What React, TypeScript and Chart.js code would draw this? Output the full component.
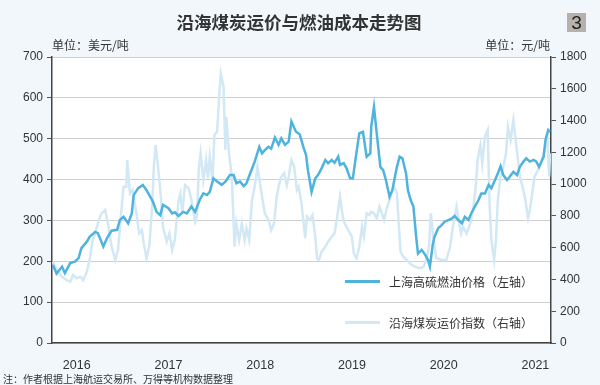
import React, { useEffect, useRef } from "react";
import { Chart, registerables } from "chart.js";

Chart.register(...registerables);

const title = "沿海煤炭运价与燃油成本走势图";
const leftUnit = "单位：美元/吨";
const rightUnit = "单位：元/吨";
const footnote = "注：作者根据上海航运交易所、万得等机构数据整理";
const fuelLabel = "上海高硫燃油价格（左轴）";
const coalLabel = "沿海煤炭运价指数（右轴）";
const yearTicks = [2016, 2017, 2018, 2019, 2020, 2021];

const fuelT = [
  2015.74, 2015.78, 2015.84, 2015.87, 2015.93, 2015.98, 2016.02, 2016.05, 2016.11, 2016.14,
  2016.2, 2016.23, 2016.29, 2016.33, 2016.38, 2016.44, 2016.47, 2016.51, 2016.56, 2016.6,
  2016.62, 2016.67, 2016.72, 2016.76, 2016.8, 2016.83, 2016.87, 2016.91, 2016.94, 2017.0,
  2017.04, 2017.07, 2017.11, 2017.16, 2017.2, 2017.25, 2017.29, 2017.34, 2017.38, 2017.42,
  2017.45, 2017.49, 2017.53, 2017.58, 2017.62, 2017.67, 2017.71, 2017.74, 2017.78, 2017.82,
  2017.85, 2017.89, 2017.94, 2017.99, 2018.02, 2018.05, 2018.09, 2018.12, 2018.16, 2018.2,
  2018.23, 2018.27, 2018.31, 2018.34, 2018.39, 2018.43, 2018.47, 2018.5, 2018.52, 2018.56,
  2018.6, 2018.63, 2018.67, 2018.71, 2018.74, 2018.78, 2018.81, 2018.85, 2018.87, 2018.91,
  2018.94, 2018.98, 2019.01, 2019.04, 2019.08, 2019.12, 2019.16, 2019.2, 2019.21, 2019.24,
  2019.27, 2019.31, 2019.34, 2019.37, 2019.41, 2019.44, 2019.49, 2019.52, 2019.55, 2019.59,
  2019.61, 2019.64, 2019.67, 2019.7, 2019.72, 2019.76, 2019.8, 2019.83, 2019.85, 2019.88,
  2019.9, 2019.94, 2019.98, 2020.01, 2020.05, 2020.09, 2020.12, 2020.16, 2020.2, 2020.23,
  2020.27, 2020.3, 2020.34, 2020.38, 2020.41, 2020.45, 2020.49, 2020.52, 2020.56, 2020.59,
  2020.62, 2020.65, 2020.69, 2020.72, 2020.76, 2020.8, 2020.83, 2020.87, 2020.9, 2020.94,
  2020.98, 2021.01, 2021.04, 2021.09, 2021.11, 2021.14, 2021.16,
];
const fuelV = [
  191, 170, 187, 171, 196, 199, 208, 232, 248, 260,
  272, 269, 236, 257, 275, 277, 301, 309, 293, 317,
  362, 379, 387, 374, 358, 346, 321, 313, 338, 330,
  317, 320, 311, 321, 317, 334, 321, 350, 366, 362,
  370, 403, 395, 387, 395, 411, 411, 391, 395, 384,
  391, 415, 444, 480, 464, 472, 480, 476, 503, 485,
  501, 485, 493, 542, 517, 511, 480, 460, 423, 370,
  403, 411, 428, 448, 440, 448, 441, 456, 436, 440,
  428, 403, 403, 452, 513, 517, 456, 464, 529, 578,
  513, 431, 423, 399, 358, 374, 431, 456, 452, 415,
  374, 350, 334, 260, 219, 228, 215, 203, 187, 240,
  260, 281, 289, 297, 301, 305, 311, 301, 293, 309,
  301, 317, 334, 350, 366, 366, 387, 379, 399, 415,
  433, 411, 399, 407, 419, 411, 431, 444, 452, 444,
  448, 444, 431, 456, 497, 521, 517,
];

const coalT = [
  2015.74, 2015.78, 2015.84, 2015.89, 2015.93, 2015.96, 2016.0, 2016.04, 2016.07, 2016.11,
  2016.14, 2016.17, 2016.2, 2016.23, 2016.27, 2016.31, 2016.34, 2016.38, 2016.42, 2016.45,
  2016.48, 2016.51, 2016.54, 2016.55, 2016.58, 2016.61, 2016.65, 2016.68, 2016.71, 2016.73,
  2016.76, 2016.79, 2016.82, 2016.84, 2016.86, 2016.89, 2016.92, 2016.94, 2016.98, 2017.01,
  2017.04, 2017.07, 2017.11, 2017.13, 2017.15, 2017.18, 2017.22, 2017.25, 2017.29, 2017.31,
  2017.33, 2017.35, 2017.38, 2017.41, 2017.43, 2017.45, 2017.48, 2017.5, 2017.53, 2017.55,
  2017.57, 2017.6, 2017.62, 2017.63, 2017.66, 2017.69, 2017.72, 2017.74, 2017.77, 2017.8,
  2017.83, 2017.85, 2017.88, 2017.91, 2017.94, 2017.97, 2018.0, 2018.02, 2018.05, 2018.09,
  2018.12, 2018.15, 2018.18, 2018.2, 2018.23, 2018.26, 2018.29, 2018.31, 2018.34, 2018.37,
  2018.4, 2018.42, 2018.45, 2018.49, 2018.51, 2018.54, 2018.57, 2018.6, 2018.62, 2018.64,
  2018.67, 2018.71, 2018.74, 2018.78, 2018.81, 2018.84, 2018.87, 2018.9, 2018.92, 2018.96,
  2019.0, 2019.02, 2019.05, 2019.08, 2019.11, 2019.13, 2019.16, 2019.19, 2019.21, 2019.24,
  2019.27, 2019.3, 2019.32, 2019.35, 2019.38, 2019.41, 2019.43, 2019.46, 2019.49, 2019.51,
  2019.53, 2019.56, 2019.6, 2019.63, 2019.67, 2019.71, 2019.74, 2019.78, 2019.81, 2019.84,
  2019.86, 2019.89, 2019.92, 2019.98, 2020.03, 2020.07, 2020.1, 2020.14, 2020.17, 2020.19,
  2020.21, 2020.25, 2020.29, 2020.32, 2020.35, 2020.37, 2020.4, 2020.42, 2020.45, 2020.48,
  2020.5, 2020.52, 2020.55, 2020.57, 2020.59, 2020.62, 2020.65, 2020.68, 2020.7, 2020.73,
  2020.76, 2020.78, 2020.81, 2020.83, 2020.86, 2020.89, 2020.92, 2020.94, 2020.97, 2020.99,
  2021.03, 2021.07, 2021.1, 2021.13, 2021.15, 2021.16,
];
const coalV = [
  512, 459, 417, 396, 386, 428, 407, 417, 396, 449,
  522, 638, 690, 753, 816, 837, 753, 606, 522, 585,
  795, 984, 984, 1152, 942, 963, 816, 690, 711, 627,
  533, 606, 837, 1110, 1246, 1089, 900, 732, 638, 690,
  585, 655, 900, 942, 816, 994, 973, 900, 763, 795,
  1089, 1194, 1026, 1152, 1036, 1173, 1026, 1309, 1330, 1529,
  1697, 1613, 1215, 1424, 1194, 1047, 606, 753, 648, 753,
  648, 722, 648, 900, 984, 1110, 994, 921, 816, 774,
  711, 753, 921, 984, 1047, 1068, 994, 1047, 1152, 1110,
  963, 984, 879, 660, 795, 774, 806, 669, 533, 522,
  575, 606, 638, 669, 690, 795, 921, 795, 753, 711,
  669, 564, 533, 606, 732, 669, 816, 806, 826, 816,
  785, 858, 826, 774, 848, 900, 942, 984, 942, 753,
  575, 543, 522, 501, 485, 476, 470, 480, 522, 606,
  816, 648, 533, 522, 522, 606, 732, 858, 753, 690,
  732, 690, 753, 837, 984, 1152, 1246, 1131, 1299, 1341,
  879, 648, 522, 648, 900, 1047, 1110, 1194, 1361, 1278,
  1403, 1299, 1152, 1047, 984, 900, 785, 837, 963, 1047,
  1089, 1152, 1215, 1299, 1047, 1194,
];

const DARK = "#4eb3dd";
const LIGHT = "#d2e8f5";
const TEXT = "#333333";
const BG = "#f1f7fb";
const SANS = "'Liberation Sans', Arial, sans-serif";
const CJK = "'Noto Sans CJK SC', sans-serif";

export default function App() {
  const ref = useRef<HTMLCanvasElement | null>(null);

  useEffect(() => {
    if (!ref.current) return;
    const plotBg = {
      id: "plotBg",
      beforeDraw(chart: any) {
        const { ctx, chartArea } = chart;
        ctx.save();
        ctx.fillStyle = "#ffffff";
        ctx.fillRect(chartArea.left, chartArea.top, chartArea.right - chartArea.left, chartArea.bottom - chartArea.top);
        ctx.restore();
      },
    };
    const chart = new Chart(ref.current, {
      type: "line",
      data: {
        datasets: [
          {
            label: fuelLabel,
            data: fuelT.map((t, i) => ({ x: t, y: fuelV[i] })),
            borderColor: DARK,
            borderWidth: 2.5,
            pointRadius: 0,
            tension: 0,
            yAxisID: "y",
          },
          {
            label: coalLabel,
            data: coalT.map((t, i) => ({ x: t, y: coalV[i] })),
            borderColor: LIGHT,
            borderWidth: 2.5,
            pointRadius: 0,
            tension: 0,
            yAxisID: "y1",
          },
        ],
      },
      options: {
        responsive: false,
        animation: false,
        devicePixelRatio: 1,
        layout: { padding: { top: 57, left: 0, right: 0, bottom: 0 } },
        plugins: { legend: { display: false }, tooltip: { enabled: false } },
        scales: {
          x: {
            type: "linear",
            min: 2015.73,
            max: 2021.17,
            afterBuildTicks: (axis: any) => {
              axis.ticks = yearTicks.map((v) => ({ value: v }));
            },
            afterFit: (s: any) => {
              s.height = 42;
            },
            ticks: {
              autoSkip: false,
              maxRotation: 0,
              padding: 7,
              color: TEXT,
              font: { family: SANS, size: 12.5 },
              callback: (v: any) => String(v),
            },
            grid: { display: false },
            border: { display: true, color: "#444444", width: 1.5 },
          },
          y: {
            position: "left",
            min: 0,
            max: 700,
            afterFit: (s: any) => {
              s.width = 52;
            },
            ticks: { stepSize: 100, padding: 4, color: TEXT, font: { family: SANS, size: 12 }, callback: (v: any) => String(v) },
            grid: { color: "#cfcfcf", lineWidth: 1, tickLength: 5, tickColor: "#555555" },
            border: { display: true, color: "#444444", width: 1.5 },
          },
          y1: {
            position: "right",
            min: 0,
            max: 1800,
            afterFit: (s: any) => {
              s.width = 49;
            },
            ticks: { stepSize: 200, padding: 4, color: TEXT, font: { family: SANS, size: 12 }, callback: (v: any) => String(v) },
            grid: { drawOnChartArea: false, tickLength: 5, tickColor: "#555555" },
            border: { display: true, color: "#444444", width: 1.5 },
          },
        },
      },
      plugins: [plotBg],
    } as any);
    return () => chart.destroy();
  }, []);

  const abs = (s: React.CSSProperties): React.CSSProperties => ({ position: "absolute", whiteSpace: "nowrap", ...s });

  return (
    <div style={{ position: "absolute", left: 0, top: 0, width: 600, height: 385, background: BG, overflow: "hidden" }}>
      <canvas ref={ref} width={600} height={385} style={{ position: "absolute", left: 0, top: 0 }} />
      <div style={abs({ left: 0, width: 598, top: 11, textAlign: "center", fontFamily: CJK, fontWeight: 700, fontSize: 17.5, lineHeight: "22px", color: TEXT })}>
        {title}
      </div>
      <div style={abs({ left: 567, top: 13, width: 19, height: 19, background: "#b7b1ac", color: "#222", fontFamily: SANS, fontSize: 19, lineHeight: "19px", textAlign: "center" })}>
        3
      </div>
      <div style={abs({ left: 52, top: 37, fontFamily: CJK, fontSize: 12, lineHeight: "16px", color: TEXT })}>{leftUnit}</div>
      <div style={abs({ right: 50, top: 37, fontFamily: CJK, fontSize: 12, lineHeight: "16px", color: TEXT })}>{rightUnit}</div>
      <div style={abs({ left: 3, top: 372, fontFamily: CJK, fontSize: 10, lineHeight: "14px", color: TEXT })}>{footnote}</div>
      <div style={abs({ left: 345, top: 280, width: 35, height: 3, background: DARK })} />
      <div style={abs({ left: 389, top: 273, fontFamily: CJK, fontSize: 12, lineHeight: "18px", color: TEXT })}>{fuelLabel}</div>
      <div style={abs({ left: 345, top: 321, width: 35, height: 3, background: LIGHT })} />
      <div style={abs({ left: 389, top: 314, fontFamily: CJK, fontSize: 12, lineHeight: "18px", color: TEXT })}>{coalLabel}</div>
    </div>
  );
}
